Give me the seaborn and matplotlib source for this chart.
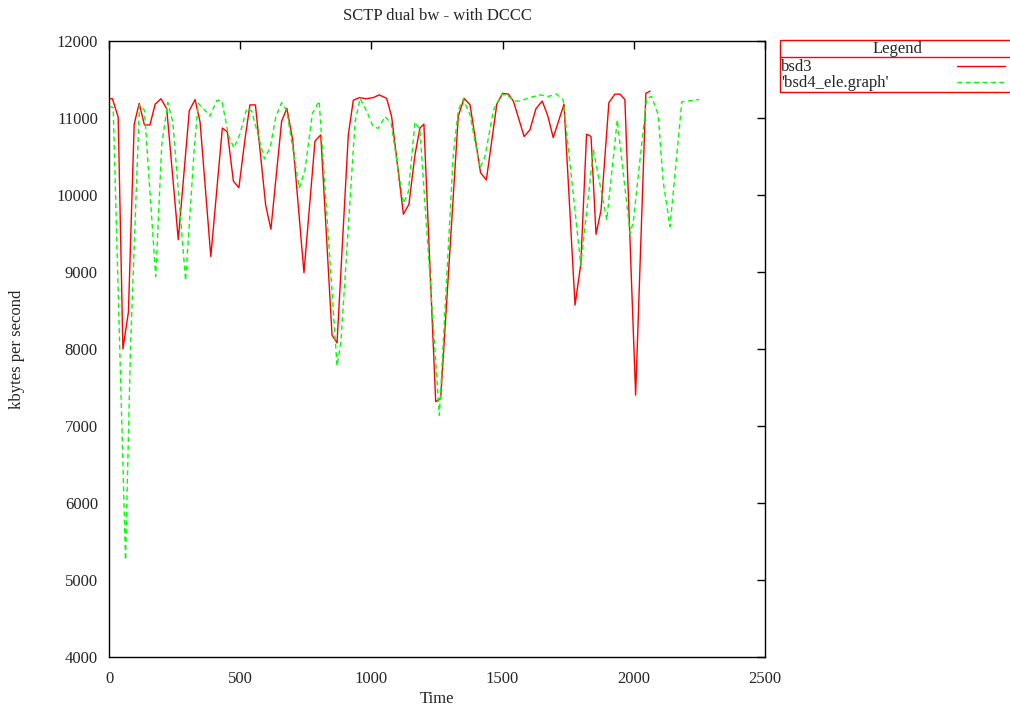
import matplotlib
matplotlib.use("Agg")

import matplotlib.pyplot as plt
import seaborn as sns
import pandas as pd
from matplotlib.lines import Line2D
from matplotlib.patches import Rectangle

# bsd3 (red, solid)
bsd3_time = [0, 13, 35, 53, 74, 96, 115, 135, 156, 176, 198, 220, 264, 306, 328, 347,
             388, 432, 451, 474, 495, 518, 537, 558, 597, 617, 658, 678, 700, 743, 785,
             807, 850, 869, 912, 931, 954, 979, 1007, 1030, 1058, 1077, 1122, 1143, 1166,
             1185, 1200, 1245, 1264, 1331, 1353, 1376, 1416, 1438, 1478, 1500, 1522, 1541,
             1582, 1604, 1627, 1651, 1672, 1693, 1734, 1776, 1798, 1820, 1837, 1856, 1875,
             1905, 1928, 1947, 1966, 2007, 2046, 2062]
bsd3_kbps = [11250, 11250, 11010, 8000, 8480, 10920, 11190, 10910, 10910, 11180, 11250,
             11120, 9420, 11095, 11240, 10950, 9200, 10870, 10820, 10180, 10095, 10720,
             11170, 11170, 9870, 9555, 10960, 11125, 10715, 8990, 10700, 10780, 8180,
             8080, 10780, 11230, 11265, 11250, 11265, 11300, 11255, 11020, 9750, 9880,
             10520, 10870, 10920, 7315, 7360, 11020, 11255, 11170, 10290, 10195, 11180,
             11320, 11310, 11220, 10760, 10845, 11120, 11220, 11030, 10745, 11180, 8570,
             9100, 10790, 10760, 9490, 9800, 11200, 11310, 11310, 11240, 7400, 11320, 11350]

# 'bsd4_ele.graph' (green, dashed)
bsd4_time = [0, 16, 63, 82, 116, 135, 178, 201, 224, 243, 292, 324, 340, 366, 385, 410,
             430, 455, 476, 499, 525, 544, 592, 614, 636, 658, 677, 725, 747, 775, 801,
             869, 884, 938, 957, 982, 1005, 1026, 1052, 1075, 1122, 1141, 1166, 1185, 1259,
             1312, 1331, 1350, 1376, 1414, 1433, 1465, 1497, 1518, 1547, 1566, 1604, 1643,
             1674, 1706, 1731, 1798, 1846, 1897, 1937, 1986, 1998, 2049, 2068, 2093, 2112,
             2138, 2183, 2250]
bsd4_kbps = [11150, 11135, 5260, 8030, 11170, 11100, 8940, 10650, 11200, 10950, 8890,
             10560, 11190, 11100, 11025, 11225, 11225, 10780, 10610, 10790, 11125, 11090,
             10470, 10615, 11020, 11200, 11100, 10090, 10325, 11060, 11220, 7780, 8100,
             10960, 11255, 11090, 10900, 10865, 11020, 10930, 9890, 10040, 10950, 10845,
             7140, 10520, 11100, 11245, 11040, 10350, 10500, 11100, 11310, 11290, 11220,
             11220, 11265, 11300, 11280, 11310, 11235, 9090, 10585, 9675, 10975, 9500,
             9650, 11255, 11280, 11040, 10170, 9590, 11210, 11240]

x_ticks = [0, 500, 1000, 1500, 2000, 2500]
y_ticks = [4000, 5000, 6000, 7000, 8000, 9000, 10000, 11000, 12000]

sns.set_style("white")
plt.rcParams['font.family'] = ['Liberation Serif', 'DejaVu Serif']
plt.rcParams['font.size'] = 12

fig = plt.figure(figsize=(10.10, 7.09), dpi=100)
ax = fig.add_axes([109 / 1010, 52 / 709, 656 / 1010, 616 / 709])

df3 = pd.DataFrame({'Time': bsd3_time, 'kbps': bsd3_kbps})
df4 = pd.DataFrame({'Time': bsd4_time, 'kbps': bsd4_kbps})
sns.lineplot(data=df3, x='Time', y='kbps', ax=ax, color='#ff0000', lw=1.0,
             estimator=None, sort=False)
sns.lineplot(data=df4, x='Time', y='kbps', ax=ax, color='#00ff00', lw=1.0,
             estimator=None, sort=False, linestyle=(0, (3.5, 2.5)))

ax.set_xlim(0, 2500)
ax.set_ylim(4000, 12000)
ax.set_xticks(x_ticks)
ax.set_yticks(y_ticks)
ax.tick_params(direction='in', length=6, width=1, color='black',
               top=True, right=True, labelsize=12)
ax.tick_params(axis='x', pad=10)
ax.tick_params(axis='y', pad=8)
for s in ax.spines.values():
    s.set_color('black')
    s.set_linewidth(1)

ax.set_title('SCTP dual bw - with DCCC', fontsize=12, pad=15)
ax.set_xlabel('Time', fontsize=12)
ax.set_ylabel('kbytes per second', fontsize=12)
ax.xaxis.set_label_coords(0.5, -0.056)
ax.yaxis.set_label_coords(-0.128, 0.5)

# legend box drawn like the gnuplot key
W, H = 1010, 709
fig.add_artist(Rectangle((780 / W, 1 - 92 / H), 240 / W, 52 / H, transform=fig.transFigure,
                         fill=False, edgecolor='#ff0000', lw=1, clip_on=False))
fig.add_artist(Line2D([780 / W, 1.02], [1 - 57 / H] * 2, transform=fig.transFigure,
                      color='#ff0000', lw=1))
fig.text(897 / W, 1 - 49 / H, 'Legend', ha='center', va='center', fontsize=12)
fig.text(781 / W, 1 - 67 / H, 'bsd3', ha='left', va='center', fontsize=12)
fig.text(781 / W, 1 - 83 / H, "'bsd4_ele.graph'", ha='left', va='center', fontsize=12)
fig.add_artist(Line2D([957 / W, 1005 / W], [1 - 66 / H] * 2, transform=fig.transFigure,
                      color='#ff0000', lw=1))
fig.add_artist(Line2D([957 / W, 1005 / W], [1 - 82 / H] * 2, transform=fig.transFigure,
                      color='#00ff00', lw=1, linestyle=(0, (3.5, 2.5))))

fig.savefig('out.png', dpi=100)
